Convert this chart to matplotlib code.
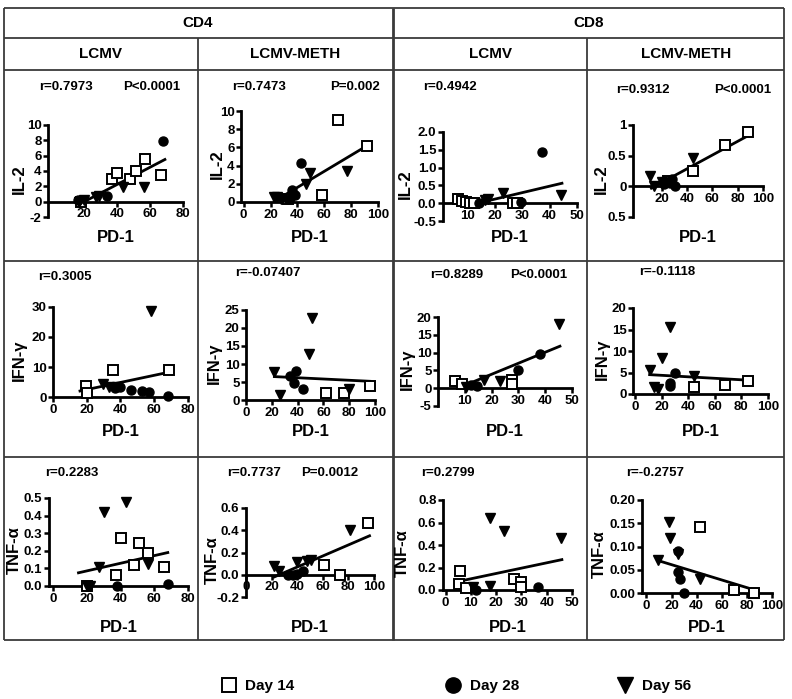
import matplotlib
matplotlib.use("Agg")
import matplotlib.pyplot as plt

plt.rcParams['font.family'] = ['Liberation Sans', 'DejaVu Sans']
plt.rcParams['font.weight'] = 'bold'
plt.rcParams['axes.unicode_minus'] = False

W, H = 792, 699

# ---------------- DATA (PD-1 on x, cytokine on y) ----------------
# Row 1: IL-2
p11_d14_x = [18, 37, 40, 48, 51.5, 57, 66.5]
p11_d14_y = [0.0, 3.0, 3.7, 2.9, 4.0, 5.6, 3.5]
p11_d28_x = [16, 34, 68]
p11_d28_y = [0.2, 0.7, 7.9]
p11_d56_x = [17, 20, 27, 29, 43.5, 56.5]
p11_d56_y = [0.0, 0.2, 0.6, 0.8, 1.9, 1.9]
p11_fit_x = [20, 69]
p11_fit_y = [0.0, 5.5]

p12_d14_x = [70, 92, 58.5, 33]
p12_d14_y = [9.0, 6.1, 0.8, 0.3]
p12_d28_x = [43, 33, 36, 38]
p12_d28_y = [4.3, 0.3, 1.3, 0.8]
p12_d56_x = [49, 46.5, 77, 22.5, 25, 37, 28]
p12_d56_y = [3.2, 2.0, 3.4, 0.6, 0.5, 0.6, 0.3]
p12_fit_x = [23, 92]
p12_fit_y = [0.1, 6.2]

p13_d14_x = [6.5, 8, 9.5, 11, 12.5, 26.5, 28]
p13_d14_y = [0.12, 0.06, 0.02, 0.0, 0.0, 0.0, 0.0]
p13_d28_x = [37.3, 29.5, 14]
p13_d28_y = [1.44, 0.03, 0.0]
p13_d56_x = [44.2, 22.9, 16.5, 17.5]
p13_d56_y = [0.24, 0.28, 0.1, 0.12]
p13_fit_x = [12, 44.5]
p13_fit_y = [-0.03, 0.56]

p14_d14_x = [88.5, 70, 44.5, 25]
p14_d14_y = [0.89, 0.67, 0.25, 0.08]
p14_d28_x = [28, 30.5, 26.5, 22]
p14_d28_y = [0.12, 0.0, 0.05, 0.04]
p14_d56_x = [45, 11, 20, 14, 22]
p14_d56_y = [0.46, 0.17, 0.07, 0.0, 0.06]
p14_fit_x = [12, 89.5]
p14_fit_y = [-0.03, 0.84]

# Row 2: IFN-γ
p21_d14_x = [19.5, 35.5, 69, 20]
p21_d14_y = [3.8, 8.9, 8.9, 1.5]
p21_d28_x = [37, 40, 46, 53, 57, 68]
p21_d28_y = [3.0, 3.5, 2.5, 2.0, 1.7, 0.5]
p21_d56_x = [57.8, 29.5, 33, 38]
p21_d56_y = [28.5, 4.4, 3.5, 3.5]
p21_fit_x = [16, 69]
p21_fit_y = [2.0, 8.3]

p22_d14_x = [96, 62, 76]
p22_d14_y = [3.8, 2.0, 2.0]
p22_d28_x = [38.5, 34, 37, 44.5]
p22_d28_y = [8.1, 6.8, 4.7, 3.0]
p22_d56_x = [51, 48.5, 22, 80, 26]
p22_d56_y = [22.9, 12.8, 7.8, 3.1, 1.5]
p22_fit_x = [22, 96]
p22_fit_y = [6.5, 5.2]

p23_d14_x = [6.3, 8.8, 27.5, 27.5]
p23_d14_y = [1.9, 1.2, 2.2, 1.3]
p23_d28_x = [38, 30, 12.5, 14.5]
p23_d28_y = [9.5, 5.2, 0.8, 0.6]
p23_d56_x = [45, 23, 17, 10.5]
p23_d56_y = [18.1, 2.0, 2.2, 0.3]
p23_fit_x = [8, 45.5]
p23_fit_y = [0.2, 11.8]

p24_d14_x = [44, 68, 85]
p24_d14_y = [1.7, 2.1, 3.1]
p24_d28_x = [30, 26.5, 26.5]
p24_d28_y = [5.0, 2.5, 1.8]
p24_d56_x = [26.5, 20, 11, 44, 14, 17]
p24_d56_y = [15.6, 8.3, 5.5, 4.1, 1.7, 1.2]
p24_fit_x = [11, 86]
p24_fit_y = [4.5, 3.2]

# Row 3: TNF-α
p31_d14_x = [40, 51, 56.5, 48, 65.5, 37, 20]
p31_d14_y = [0.27, 0.245, 0.19, 0.12, 0.11, 0.06, 0.0]
p31_d28_x = [68, 38]
p31_d28_y = [0.01, 0.0]
p31_d56_x = [43, 30, 56, 27, 20, 22]
p31_d56_y = [0.48, 0.42, 0.125, 0.11, 0.0, 0.0]
p31_fit_x = [15, 68]
p31_fit_y = [0.075, 0.19]

p32_d14_x = [95.5, 61, 73.5]
p32_d14_y = [0.465, 0.085, 0.0]
p32_d28_x = [44.5, 37, 40, 33]
p32_d28_y = [0.036, 0.0, 0.01, 0.0]
p32_d56_x = [81, 50.5, 40, 22, 25.5, 48]
p32_d56_y = [0.40, 0.135, 0.115, 0.075, 0.03, 0.12]
p32_fit_x = [22, 96.5]
p32_fit_y = [-0.02, 0.35]

p33_d14_x = [5.6, 27.2, 5.5, 8, 30, 30]
p33_d14_y = [0.17, 0.10, 0.05, 0.02, 0.07, 0.03]
p33_d28_x = [36.6, 12]
p33_d28_y = [0.03, 0.0]
p33_d56_x = [17.6, 23.2, 45.6, 11, 17.6]
p33_d56_y = [0.64, 0.525, 0.46, 0.03, 0.04]
p33_fit_x = [8, 46]
p33_fit_y = [0.09, 0.27]

p34_d14_x = [42.5, 70, 86]
p34_d14_y = [0.143, 0.006, 0.0]
p34_d28_x = [25.5, 25.5, 27, 30]
p34_d28_y = [0.091, 0.045, 0.03, 0.0]
p34_d56_x = [17.8, 18.5, 25.5, 9, 43]
p34_d56_y = [0.153, 0.118, 0.083, 0.07, 0.03]
p34_fit_x = [9, 88]
p34_fit_y = [0.07, 0.005]

stats_r = ["r=0.7973", "r=0.7473", "r=0.4942", "r=0.9312",
           "r=0.3005", "r=-0.07407", "r=0.8289", "r=-0.1118",
           "r=0.2283", "r=0.7737", "r=0.2799", "r=-0.2757"]
stats_p = ["P<0.0001", "P=0.002", "", "P<0.0001",
           "", "", "P<0.0001", "",
           "", "P=0.0012", "", ""]
row_labels = ["IL-2", "IFN-γ", "TNF-α"]
group_labels = ["CD4", "CD8"]
col_labels = ["LCMV", "LCMV-METH", "LCMV", "LCMV-METH"]
legend_labels = ["Day 14", "Day 28", "Day 56"]

xticks_list = [[20, 40, 60, 80], [0, 20, 40, 60, 80, 100], [10, 20, 30, 40, 50], [20, 40, 60, 80, 100],
               [0, 20, 40, 60, 80], [0, 20, 40, 60, 80, 100], [10, 20, 30, 40, 50], [0, 20, 40, 60, 80, 100],
               [0, 20, 40, 60, 80], [0, 20, 40, 60, 80, 100], [0, 10, 20, 30, 40, 50], [0, 20, 40, 60, 80, 100]]
yticks_list = [[-2, 0, 2, 4, 6, 8, 10], [0, 2, 4, 6, 8, 10], [-0.5, 0.0, 0.5, 1.0, 1.5, 2.0], [-0.5, 0, 0.5, 1],
               [0, 10, 20, 30], [0, 5, 10, 15, 20, 25], [-5, 0, 5, 10, 15, 20], [0, 5, 10, 15, 20],
               [0, 0.1, 0.2, 0.3, 0.4, 0.5], [-0.2, 0.0, 0.2, 0.4, 0.6], [0, 0.2, 0.4, 0.6, 0.8], [0, 0.05, 0.10, 0.15, 0.20]]
ytick_labels = [["-2", "0", "2", "4", "6", "8", "10"], ["0", "2", "4", "6", "8", "10"],
                ["-0.5", "0.0", "0.5", "1.0", "1.5", "2.0"], ["0.5", "0", "0.5", "1"],
                ["0", "10", "20", "30"], ["0", "5", "10", "15", "20", "25"],
                ["-5", "0", "5", "10", "15", "20"], ["0", "5", "10", "15", "20"],
                ["0.0", "0.1", "0.2", "0.3", "0.4", "0.5"], ["-0.2", "0.0", "0.2", "0.4", "0.6"],
                ["0.0", "0.2", "0.4", "0.6", "0.8"], ["0.00", "0.05", "0.10", "0.15", "0.20"]]

panels = [
    (p11_d14_x, p11_d14_y, p11_d28_x, p11_d28_y, p11_d56_x, p11_d56_y, p11_fit_x, p11_fit_y),
    (p12_d14_x, p12_d14_y, p12_d28_x, p12_d28_y, p12_d56_x, p12_d56_y, p12_fit_x, p12_fit_y),
    (p13_d14_x, p13_d14_y, p13_d28_x, p13_d28_y, p13_d56_x, p13_d56_y, p13_fit_x, p13_fit_y),
    (p14_d14_x, p14_d14_y, p14_d28_x, p14_d28_y, p14_d56_x, p14_d56_y, p14_fit_x, p14_fit_y),
    (p21_d14_x, p21_d14_y, p21_d28_x, p21_d28_y, p21_d56_x, p21_d56_y, p21_fit_x, p21_fit_y),
    (p22_d14_x, p22_d14_y, p22_d28_x, p22_d28_y, p22_d56_x, p22_d56_y, p22_fit_x, p22_fit_y),
    (p23_d14_x, p23_d14_y, p23_d28_x, p23_d28_y, p23_d56_x, p23_d56_y, p23_fit_x, p23_fit_y),
    (p24_d14_x, p24_d14_y, p24_d28_x, p24_d28_y, p24_d56_x, p24_d56_y, p24_fit_x, p24_fit_y),
    (p31_d14_x, p31_d14_y, p31_d28_x, p31_d28_y, p31_d56_x, p31_d56_y, p31_fit_x, p31_fit_y),
    (p32_d14_x, p32_d14_y, p32_d28_x, p32_d28_y, p32_d56_x, p32_d56_y, p32_fit_x, p32_fit_y),
    (p33_d14_x, p33_d14_y, p33_d28_x, p33_d28_y, p33_d56_x, p33_d56_y, p33_fit_x, p33_fit_y),
    (p34_d14_x, p34_d14_y, p34_d28_x, p34_d28_y, p34_d56_x, p34_d56_y, p34_fit_x, p34_fit_y),
]

# ---------------- LAYOUT (pixels) ----------------
boxes = [(48, 183, 125, 217), (241, 378, 111, 202), (443, 577, 132, 221), (633, 763, 125, 217),
         (53, 188, 307, 397), (246, 375, 310, 400), (438, 572, 317, 406), (633, 768, 308, 394),
         (49, 188, 498, 586), (246, 374, 508, 597), (443, 572, 500, 590), (642, 772, 500, 593)]
xlims = [(-2, 80), (-2, 100), (1, 50), (-2.5, 100),
         (0, 80), (0, 100), (0, 50), (-1.5, 100),
         (-2.5, 80), (0, 100), (-1, 50), (-3.5, 100)]
ylims = [(-2, 10), (0, 10), (-0.5, 2.0), (-0.5, 1),
         (0, 30), (0, 25), (-5, 20), (0, 20),
         (0, 0.5), (-0.2, 0.6), (0, 0.8), (0, 0.2)]
r_pos = [(66, 87), (259, 87), (450, 87), (643, 90),
         (65, 277), (268, 273), (457, 275), (667, 272),
         (72, 473), (254, 473), (448, 473), (655, 473)]
p_pos = [(152, 87), (355, 87), None, (743, 90),
         None, None, (539, 275), None,
         None, (330, 473), None, None]
ylab_x = [19, 217, 405, 601, 19, 214, 407, 602, 14, 212, 402, 599]
xlab_y = [237, 432, 627]

fig = plt.figure(figsize=(W / 100, H / 100), dpi=100)

ov = fig.add_axes([0, 0, 1, 1])
ov.set_xlim(0, W)
ov.set_ylim(H, 0)
ov.axis('off')

lc = '#3a3a3a'
L, R, T, B = 4, 784, 8, 640
for (xs, ys, lw) in [
    ([L, R], [T, T], 1.3), ([L, R], [B, B], 1.3), ([L, L], [T, B], 1.3), ([R, R], [T, B], 1.3),
    ([L, R], [38, 38], 1.3), ([L, R], [70, 70], 1.3), ([L, R], [261, 261], 1.3), ([L, R], [457, 457], 1.3),
    ([198, 198], [38, B], 1.3), ([393, 393], [T, B], 2.0), ([587, 587], [38, B], 1.3)]:
    ov.plot(xs, ys, color=lc, lw=lw, solid_capstyle='butt')

ov.text(198, 23, group_labels[0], ha='center', va='center', fontsize=11, fontweight='bold')
ov.text(589, 23, group_labels[1], ha='center', va='center', fontsize=11, fontweight='bold')
for cx, lab in zip([101, 295, 490, 686], col_labels):
    ov.text(cx, 54, lab, ha='center', va='center', fontsize=11, fontweight='bold')

for i, pdata in enumerate(panels):
    d14x, d14y, d28x, d28y, d56x, d56y, fx, fy = pdata
    l, r, t, b = boxes[i]
    ax = fig.add_axes([l / W, 1 - b / H, (r - l) / W, (b - t) / H])
    ax.patch.set_alpha(0)
    ax.set_xlim(*xlims[i])
    ax.set_ylim(*ylims[i])
    for s in ['top', 'right']:
        ax.spines[s].set_visible(False)
    for s in ['left', 'bottom']:
        ax.spines[s].set_linewidth(2.0)
    if ylims[i][0] < 0:
        ax.spines['bottom'].set_position(('data', 0))
    ax.set_xticks(xticks_list[i])
    ax.set_xticklabels([str(v) for v in xticks_list[i]])
    ax.set_yticks(yticks_list[i])
    ax.set_yticklabels(ytick_labels[i])
    ax.tick_params(axis='both', direction='out', length=3.5, width=1.8, labelsize=9.5, pad=1.2)
    for lab in ax.get_xticklabels() + ax.get_yticklabels():
        lab.set_fontweight('bold')

    ax.plot(fx, fy, color='black', lw=2.0, clip_on=False, zorder=2)
    ax.plot(d14x, d14y, linestyle='none', marker='s', ms=7.0, mfc='white', mec='black', mew=1.4,
            clip_on=False, zorder=3)
    ax.plot(d28x, d28y, linestyle='none', marker='o', ms=6.5, mfc='black', mec='black',
            clip_on=False, zorder=3)
    ax.plot(d56x, d56y, linestyle='none', marker='v', ms=6.5, mfc='black', mec='black',
            clip_on=False, zorder=3)

    cx = (l + r) / 2
    row = i // 4
    ov.text(cx, xlab_y[row], "PD-1", ha='center', va='center', fontsize=12, fontweight='bold')
    ov.text(ylab_x[i], (t + b) / 2 + 8, row_labels[row], ha='center', va='center', rotation=90,
            fontsize=12, fontweight='bold')
    ov.text(r_pos[i][0], r_pos[i][1], stats_r[i], ha='center', va='center', fontsize=9.5, fontweight='bold')
    if p_pos[i] is not None:
        ov.text(p_pos[i][0], p_pos[i][1], stats_p[i], ha='center', va='center', fontsize=9.5,
                fontweight='bold')

# legend
ov.plot([229], [685], linestyle='none', marker='s', ms=10.5, mfc='white', mec='black', mew=1.4)
ov.plot([453], [685], linestyle='none', marker='o', ms=11, mfc='black', mec='black')
ov.plot([625], [685], linestyle='none', marker='v', ms=12, mfc='black', mec='black')
for lx, lab in zip([245, 470, 642], legend_labels):
    ov.text(lx, 686, lab, ha='left', va='center', fontsize=11, fontweight='bold')

fig.savefig("out.png", dpi=100)
